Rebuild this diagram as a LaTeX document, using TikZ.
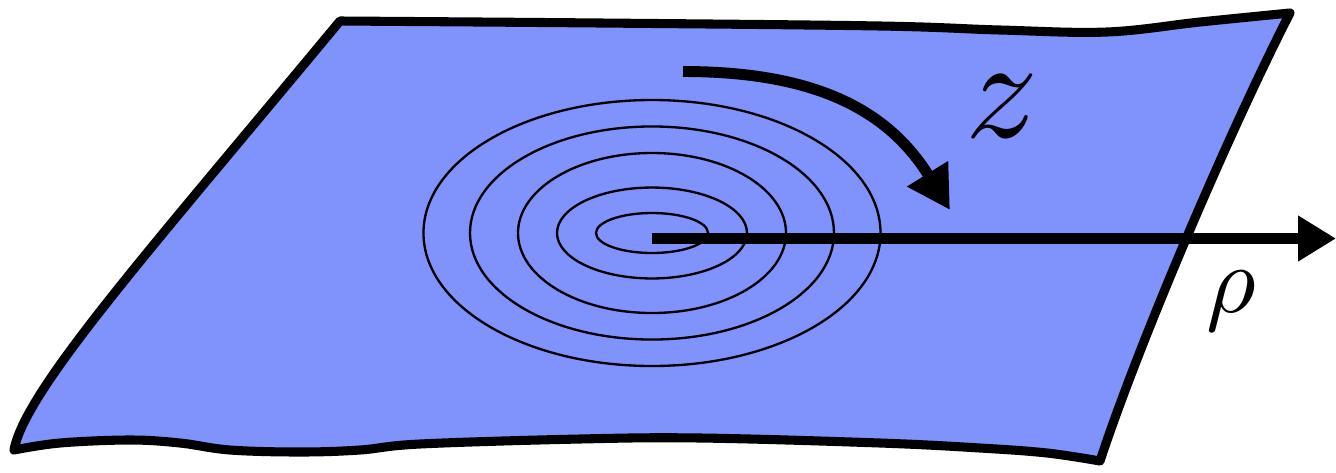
\documentclass[tikz,border=0pt]{standalone}
\usetikzlibrary{arrows.meta}
\definecolor{sheet}{RGB}{128,146,252}
\begin{document}
\begin{tikzpicture}[x=0.75pt,y=-0.75pt,
  edge/.style={line width=6.8pt, line join=round, line cap=round, draw=black, fill=sheet},
  ring/.style={line width=1.75pt, draw=black},
  rhoarrow/.style={line width=8.2pt, -{Triangle[length=28.5pt,width=32.5pt]}},
  zarrow/.style={line width=8.2pt, -{Triangle[length=32pt,width=34pt]}},
  lbl/.style={inner sep=0pt}]
\useasboundingbox (0,0) rectangle (1336,472);
% hand-drawn sheet
\path[edge] (14,450) .. controls (25,390) and (150,250) .. (340,21)
 -- plot[smooth, tension=0.6] coordinates {(340,21) (600,23) (880,26) (1000,30) (1107,32) (1200,22) (1290,13)}
 .. controls (1230,130) and (1140,340) .. (1100,461)
 -- plot[smooth, tension=0.6] coordinates {(1100,461) (1047,453) (980,448) (880,443) (700,438) (580,439) (420,444) (360,450) (300,452) (230,450) (180,443) (130,440) (60,443) (14,450)} -- cycle;
% concentric rings
\coordinate (O) at (652,233);
\draw[ring] (O) ellipse [x radius=171.4pt, y radius=99.75pt];
\draw[ring] (O) ellipse [x radius=136.5pt, y radius=79.9pt];
\draw[ring] (O) ellipse [x radius=100.5pt, y radius=60pt];
\draw[ring] (O) ellipse [x radius=71.25pt, y radius=34.1pt];
\draw[ring] (O) ellipse [x radius=42pt, y radius=15pt];
% rho arrow
\coordinate (rs) at (652,238.5);
\coordinate (re) at (1336,238.5);
\draw[rhoarrow] (rs) -- (re);
% z arrow
\coordinate (zs) at (683,71.5);
\coordinate (ze) at (950,210);
\draw[zarrow] (zs) .. controls (815,71.5) and (888,110) .. (ze);
% labels
\node[lbl, scale=10.8] (zlab) at (1002.5,106) {$z$};
\node[lbl, scale=7.2] (rholab) at (1231.5,301) {$\rho$};
\end{tikzpicture}
\end{document}
